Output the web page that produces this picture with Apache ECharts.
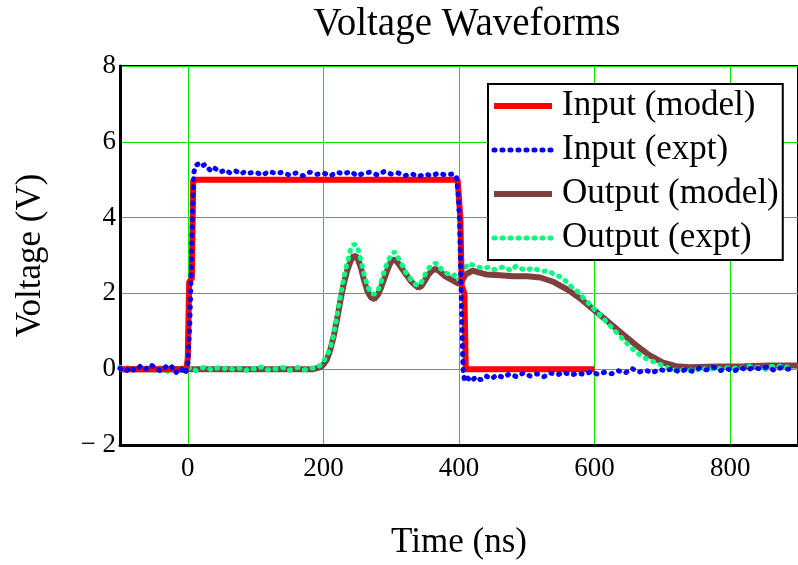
<!DOCTYPE html>
<html>
<head>
<meta charset="utf-8">
<script src="https://cdn.jsdelivr.net/npm/echarts@6/dist/echarts.min.js"></script>
<style>
  html, body { margin: 0; padding: 0; background: #fff; }
  #chart { width: 798px; height: 565px; }
</style>
</head>
<body>
<div id="chart"></div>
<script>
// x ticks shown on the time axis
const timeTicks = [0, 200, 400, 600, 800];

// Input (model): ideal pulse, [time ns, volts]
const inputModel = [
  [-100, 0], [-2, 0], [0, 0.3], [2, 2.3], [6, 2.4], [8, 5], [398, 5],
  [402, 4.0], [404, 2.2], [408, 2.0], [410, 0], [600, 0]
];

// Input (expt): measured pulse
const inputExpt = [
  [-100, 0.02], [-92, -0.06], [-85, 0.05], [-78, -0.04], [-70, 0.08], [-62, 0.0], [-55, 0.12],
  [-48, 0.04], [-40, -0.05], [-32, 0.07], [-25, 0.1], [-18, -0.1], [-10, 0.03], [-4, -0.12],
  [0, 0.1], [3, 1.2], [5, 2.6], [7, 4.2], [9, 5.2], [12, 5.38], [16, 5.42], [20, 5.35],
  [25, 5.4], [30, 5.3], [35, 5.22], [40, 5.3], [48, 5.2], [55, 5.26], [62, 5.18], [70, 5.24],
  [78, 5.15], [85, 5.22], [92, 5.18], [100, 5.2], [110, 5.12], [120, 5.22], [130, 5.16],
  [140, 5.2], [150, 5.12], [160, 5.18], [170, 5.1], [180, 5.2], [190, 5.14], [200, 5.18],
  [210, 5.1], [220, 5.2], [230, 5.15], [240, 5.22], [250, 5.1], [260, 5.18], [270, 5.2],
  [280, 5.12], [290, 5.22], [300, 5.15], [310, 5.18], [320, 5.1], [330, 5.16], [340, 5.08],
  [350, 5.15], [360, 5.1], [370, 5.18], [380, 5.12], [390, 5.15], [396, 5.1], [399, 4.6],
  [401, 3.8], [402, 3.0], [403, 2.2], [404, 1.4], [405, 0.6], [406, 0.0], [408, -0.3],
  [412, -0.22], [418, -0.32], [425, -0.2], [432, -0.28], [440, -0.18], [448, -0.25],
  [456, -0.15], [465, -0.22], [475, -0.12], [485, -0.2], [495, -0.1], [505, -0.18],
  [515, -0.12], [525, -0.2], [535, -0.1], [545, -0.15], [555, -0.08], [565, -0.16],
  [575, -0.1], [585, -0.14], [595, -0.06], [605, -0.14], [615, -0.08], [625, -0.12],
  [635, -0.04], [645, -0.1], [655, 0.02], [665, -0.08], [675, -0.02], [685, -0.1],
  [695, 0.0], [705, -0.05], [715, 0.02], [725, -0.08], [735, 0.0], [745, -0.06],
  [755, 0.03], [765, -0.02], [775, 0.05], [785, -0.04], [795, 0.02], [805, -0.06],
  [815, 0.04], [825, -0.02], [835, 0.05], [845, 0.0], [855, 0.06], [865, -0.03],
  [875, 0.04], [885, 0.0], [895, 0.05]
];

// Output (model)
const outputModel = [
  [-100, 0], [185, 0], [195, 0.05], [200, 0.12], [205, 0.25], [210, 0.5], [215, 0.85],
  [220, 1.3], [225, 1.8], [230, 2.25], [235, 2.6], [240, 2.85], [245, 3.0], [250, 2.95],
  [255, 2.7], [260, 2.35], [265, 2.05], [270, 1.9], [275, 1.85], [280, 1.95], [285, 2.15],
  [290, 2.4], [295, 2.65], [300, 2.85], [305, 2.9], [310, 2.8], [320, 2.55], [330, 2.3],
  [340, 2.15], [345, 2.2], [350, 2.35], [355, 2.5], [360, 2.6], [365, 2.65], [370, 2.6],
  [380, 2.45], [390, 2.35], [400, 2.25], [405, 2.35], [410, 2.5], [420, 2.6], [430, 2.55],
  [440, 2.5], [460, 2.48], [480, 2.45], [500, 2.45], [520, 2.42], [540, 2.3], [560, 2.1],
  [580, 1.85], [600, 1.55], [620, 1.25], [640, 0.95], [660, 0.65], [680, 0.38], [700, 0.18],
  [720, 0.08], [740, 0.05], [780, 0.07], [820, 0.08], [860, 0.1], [900, 0.1]
];

// Output (expt)
const outputExpt = [
  [-100, 0.05], [-93, -0.02], [-86, 0.08], [-79, 0.0], [-72, -0.04], [-65, 0.06], [-58, 0.02],
  [-51, -0.05], [-44, 0.07], [-37, 0.0], [-30, -0.06], [-23, 0.05], [-16, -0.02], [-9, 0.04],
  [-2, 0.0], [5, 0.05], [12, -0.04], [20, 0.03], [28, 0.06], [36, -0.03], [44, 0.04],
  [52, 0.0], [60, 0.06], [68, -0.02], [76, 0.03], [84, -0.05], [92, 0.04], [100, 0.0],
  [108, 0.06], [116, -0.03], [124, 0.03], [132, 0.0], [140, 0.05], [148, -0.04], [156, 0.02],
  [164, 0.05], [172, -0.02], [180, 0.04], [188, 0.02], [195, 0.1], [200, 0.2], [205, 0.35],
  [210, 0.55], [215, 0.9], [220, 1.4], [225, 1.9], [230, 2.4], [235, 2.8], [240, 3.15],
  [245, 3.3], [250, 3.25], [255, 2.9], [260, 2.5], [265, 2.2], [270, 2.0], [275, 1.98],
  [280, 2.05], [285, 2.3], [290, 2.6], [295, 2.85], [300, 3.0], [305, 3.1], [310, 2.95],
  [315, 2.8], [320, 2.6], [325, 2.45], [330, 2.35], [335, 2.25], [340, 2.2], [345, 2.3],
  [350, 2.5], [355, 2.65], [360, 2.75], [365, 2.8], [370, 2.75], [375, 2.6], [380, 2.55],
  [385, 2.5], [390, 2.45], [395, 2.5], [400, 2.35], [405, 2.6], [410, 2.7], [415, 2.8],
  [420, 2.75], [428, 2.7], [436, 2.65], [444, 2.7], [452, 2.62], [460, 2.68], [468, 2.7],
  [476, 2.6], [484, 2.72], [492, 2.65], [500, 2.6], [508, 2.68], [516, 2.62], [524, 2.58],
  [532, 2.6], [540, 2.5], [548, 2.45], [556, 2.35], [564, 2.2], [572, 2.1], [580, 1.95],
  [588, 1.8], [596, 1.65], [604, 1.5], [612, 1.35], [620, 1.2], [628, 1.05], [636, 0.9],
  [644, 0.75], [652, 0.6], [660, 0.47], [668, 0.36], [676, 0.28], [684, 0.22], [692, 0.16],
  [700, 0.1], [708, 0.04], [716, 0.0], [724, -0.06], [732, 0.0], [740, -0.04], [748, 0.03],
  [756, -0.05], [764, 0.02], [772, 0.0], [780, 0.05], [788, -0.02], [796, 0.04], [804, 0.0],
  [812, 0.06], [820, 0.02], [828, 0.08], [836, 0.03], [844, 0.06], [852, 0.0], [860, 0.08],
  [868, 0.04], [876, 0.1], [884, 0.05], [892, 0.08]
];

const serif = '"Liberation Serif", "DejaVu Serif", serif';
const gridGreen = '#00e600';

const chart = echarts.init(document.getElementById('chart'));
chart.setOption({
  animation: false,
  backgroundColor: '#fff',
  title: {
    text: 'Voltage Waveforms',
    left: 462,
    textAlign: 'center',
    top: 0,
    textStyle: { fontFamily: serif, fontSize: 39, fontWeight: 'normal', color: '#000' }
  },
  legend: {
    orient: 'vertical',
    left: 488,
    top: 84,
    padding: [2, 4, 2, 3],
    itemGap: 4,
    itemWidth: 58,
    itemHeight: 14,
    borderColor: '#000',
    borderWidth: 2,
    backgroundColor: '#fff',
    // hide the marker dot, keep the line sample at the series width
    itemStyle: { opacity: 0 },
    lineStyle: { width: 'inherit' },
    data: ['Input (model)', 'Input (expt)', 'Output (model)', 'Output (expt)'],
    textStyle: { fontFamily: serif, fontSize: 35, color: '#000', padding: [0, 0, 0, 5], lineHeight: 40 }
  },
  grid: {
    left: 120, right: -1, top: 66, bottom: 114,
    show: true, borderColor: '#000', borderWidth: 2
  },
  xAxis: {
    type: 'value',
    min: -100,
    max: 900,
    name: 'Time (ns)',
    nameLocation: 'middle',
    nameGap: 80,
    nameTextStyle: { fontFamily: serif, fontSize: 35, color: '#000' },
    axisLine: { onZero: false, lineStyle: { color: '#000', width: 3 } },
    axisTick: { show: false, customValues: timeTicks },
    axisLabel: { customValues: timeTicks, fontFamily: serif, fontSize: 27, color: '#000', margin: 10 },
    splitLine: { show: true, lineStyle: { color: gridGreen, width: 1 } }
  },
  yAxis: {
    type: 'value',
    min: -2,
    max: 8,
    interval: 2,
    name: 'Voltage (V)',
    nameLocation: 'middle',
    nameGap: 72,
    nameTextStyle: { fontFamily: serif, fontSize: 35, color: '#000' },
    axisLine: { show: true, onZero: false, lineStyle: { color: '#000', width: 3 } },
    axisTick: { show: false },
    axisLabel: {
      fontFamily: serif, fontSize: 27, color: '#000', margin: 4,
      formatter: v => (v < 0 ? '\u2212 ' + Math.abs(v) : String(v))
    },
    splitLine: { show: true, lineStyle: { color: gridGreen, width: 1 } }
  },
  series: [
    {
      name: 'Input (model)', type: 'line', data: inputModel, symbol: 'none', z: 4,
      lineStyle: { color: '#ff0000', width: 6 }, itemStyle: { color: '#ff0000' }
    },
    {
      name: 'Input (expt)', type: 'line', data: inputExpt, symbol: 'none', z: 5,
      lineStyle: { color: '#0000ff', width: 5, type: [1, 7], cap: 'round' }, itemStyle: { color: '#0000ff' }
    },
    {
      name: 'Output (model)', type: 'line', data: outputModel, symbol: 'none', z: 2,
      lineStyle: { color: '#7f3f3f', width: 6 }, itemStyle: { color: '#7f3f3f' }
    },
    {
      name: 'Output (expt)', type: 'line', data: outputExpt, symbol: 'none', z: 3,
      lineStyle: { color: '#00ff80', width: 5, type: [1, 7], cap: 'round' }, itemStyle: { color: '#00ff80' }
    }
  ]
});
</script>
</body>
</html>
